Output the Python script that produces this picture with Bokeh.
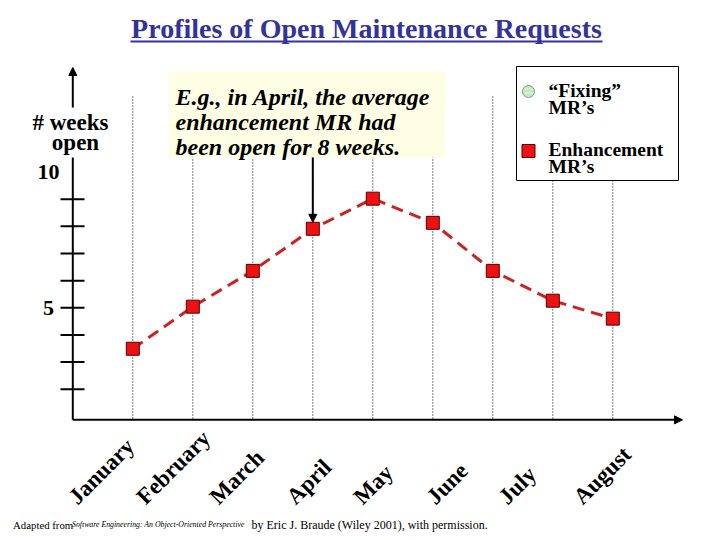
import math
from bokeh.plotting import figure
from bokeh.models import Arrow, NormalHead
from bokeh.core.properties import value
from bokeh.embed import file_html
from bokeh.resources import INLINE

# ---------------- data ----------------
months = ["January", "February", "March", "April", "May", "June", "July", "August"]
point_index = [0, 1, 2, 3, 4, 5, 6, 7, 8]
enh_weeks = [3.49, 5.04, 6.36, 7.91, 9.02, 8.13, 6.36, 5.26, 4.60]
y_ticks = [2, 3, 4, 5, 6, 7, 8, 9]
y_tick_labels = ["5", "10"]
y_tick_label_values = [5, 10]
x_axis_value = 0.87
y_axis_index = -1

# ---------------- layout helpers (picture pixels -> data) ----------------
X0, DX = 132.3, 60.0
YREF_PX, YREF_V, DY = 293.7, 5.5, 27.14


def px2x(px):
    return (px - X0) / DX


def py2y(py):
    return YREF_V - (py - YREF_PX) / DY


W, H = 704, 532
FONT = value("Liberation Serif")

p = figure(width=W, height=H,
           x_range=(px2x(0), px2x(W)), y_range=(py2y(H), py2y(0)),
           x_axis_type=None, y_axis_type=None, toolbar_location=None,
           output_backend="svg", min_border=0, outline_line_color=None,
           background_fill_color="white", border_fill_color="white")
p.xgrid.visible = False
p.ygrid.visible = False

# dotted vertical guides
p.segment(x0=point_index, x1=point_index,
          y0=[py2y(96)] * len(point_index), y1=[x_axis_value] * len(point_index),
          line_color="black", line_width=1, line_dash="1 2")

# annotation box
p.quad(left=[px2x(168)], right=[px2x(445)], top=[py2y(71)], bottom=[py2y(157)],
       fill_color="#FEFEE4", line_color=None)
# legend box
p.quad(left=[px2x(516)], right=[px2x(678)], top=[py2y(66)], bottom=[py2y(180)],
       fill_color="white", line_color="black", line_width=1)

# y axis
p.segment(x0=[y_axis_index], x1=[y_axis_index], y0=[x_axis_value], y1=[py2y(157)],
          line_color="black", line_width=2)
p.add_layout(Arrow(end=NormalHead(size=8, fill_color="black", line_color="black"),
                   x_start=y_axis_index, y_start=py2y(107),
                   x_end=y_axis_index, y_end=py2y(67),
                   line_color="black", line_width=2))
# ticks
p.segment(x0=[px2x(60)] * len(y_ticks), x1=[px2x(84)] * len(y_ticks),
          y0=y_ticks, y1=y_ticks, line_color="black", line_width=2)
# x axis
p.add_layout(Arrow(end=NormalHead(size=8, fill_color="black", line_color="black"),
                   x_start=y_axis_index, y_start=x_axis_value,
                   x_end=px2x(682), y_end=x_axis_value,
                   line_color="black", line_width=2))

# series
p.line(point_index, enh_weeks, line_color="#CC2222", line_width=3, line_dash="12 7")
p.scatter(point_index, enh_weeks, marker="square", size=13,
          fill_color="#EE1111", line_color="#550000", line_width=1)

# arrow to April point
p.add_layout(Arrow(end=NormalHead(size=8, fill_color="black", line_color="black"),
                   x_start=3, y_start=py2y(157), x_end=3, y_end=enh_weeks[3] + 6.5 / DY,
                   line_color="black", line_width=2))

# legend markers
p.scatter([px2x(528)], [py2y(91)], marker="circle", size=12,
          fill_color="#D4EED4", line_color="#6E9E6E", line_width=1,
          hatch_pattern="-", hatch_color="#B8DDB8", hatch_scale=4)
p.scatter([px2x(528)], [py2y(150.5)], marker="square", size=13,
          fill_color="#EE1111", line_color="#550000", line_width=1)

# title
p.text(x=[px2x(366)], y=[py2y(28)], text=["Profiles of Open Maintenance Requests"],
       text_font=FONT, text_font_style="bold", text_font_size="28px",
       text_color="#333399", text_align="center", text_baseline="middle")
p.segment(x0=[px2x(130)], x1=[px2x(602)], y0=[py2y(41)], y1=[py2y(41)],
          line_color="#333399", line_width=2)

# y axis title and tick labels
p.text(x=[px2x(70), px2x(75)], y=[py2y(121.5), py2y(141.5)], text=["# weeks", "open"],
       text_font=FONT, text_font_style="bold", text_font_size="23px",
       text_color="black", text_align="center", text_baseline="middle")
p.text(x=[px2x(48)] * len(y_tick_labels), y=y_tick_label_values, text=y_tick_labels,
       text_font=FONT, text_font_style="bold", text_font_size="22px",
       text_color="black", text_align="center", text_baseline="middle")

# annotation text
p.text(x=[px2x(175)] * 3, y=[py2y(96), py2y(121.5), py2y(146)],
       text=["E.g., in April, the average", "enhancement MR had", "been open for 8 weeks."],
       text_font=FONT, text_font_style="bold italic", text_font_size="24px",
       text_color="black", text_align="left", text_baseline="alphabetic")

# legend text
p.text(x=[px2x(548)] * 4, y=[py2y(90), py2y(107), py2y(149), py2y(166)],
       text=["\u201cFixing\u201d", "MR\u2019s", "Enhancement", "MR\u2019s"],
       text_font=FONT, text_font_style="bold", text_font_size="19.5px",
       text_color="black", text_align="left", text_baseline="middle")

# month labels
label_px = [72, 140, 213, 290, 357, 430, 502, 577]
p.text(x=[px2x(v) for v in label_px], y=[py2y(500)] * len(months), text=months,
       angle=math.pi / 4, text_font=FONT, text_font_style="bold", text_font_size="23px",
       text_color="black", text_align="left", text_baseline="alphabetic")

# footer
p.text(x=[px2x(12.5)], y=[py2y(524)], text=["Adapted from"],
       text_font=FONT, text_font_size="10.8px", text_color="black",
       text_align="left", text_baseline="middle")
p.text(x=[px2x(71.5)], y=[py2y(524)],
       text=["Software Engineering: An Object-Oriented Perspective"],
       text_font=FONT, text_font_style="italic", text_font_size="7.8px", text_color="black",
       text_align="left", text_baseline="middle")
p.text(x=[px2x(251)], y=[py2y(524)],
       text=["by Eric J. Braude (Wiley 2001), with permission."],
       text_font=FONT, text_font_size="12px", text_color="black",
       text_align="left", text_baseline="middle")

open("out.html", "w").write(file_html(p, INLINE))
